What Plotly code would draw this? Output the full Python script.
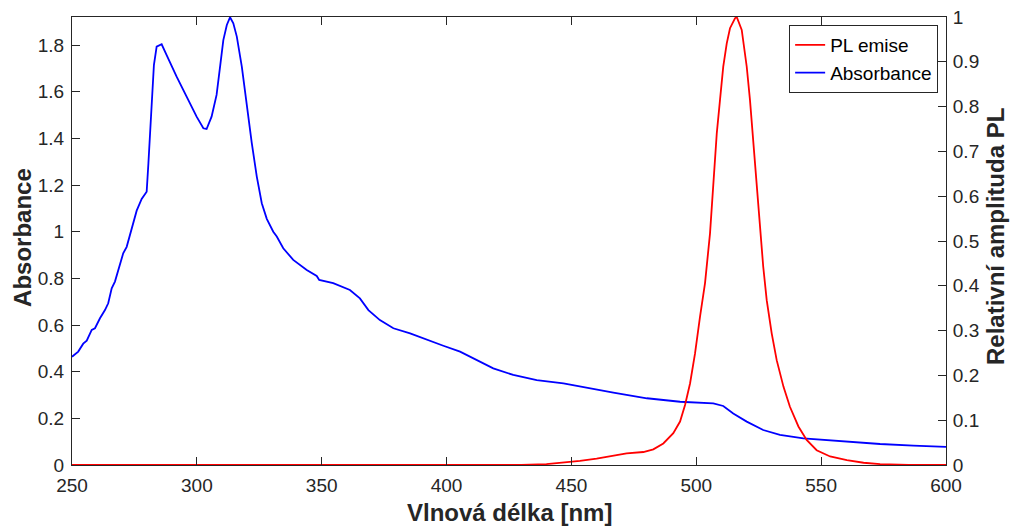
import plotly.graph_objects as go

# Absorbance spectrum (left axis)
abs_wavelength = [250, 252.5, 254.5, 255.9, 257.9, 259.2, 261.2, 263.2, 264.5, 265.9, 267.2,
                  269.2, 270.5, 271.9, 273.9, 275.9, 277.9, 279.2, 279.9, 280.6, 281.2, 281.9,
                  282.8, 283.9, 285.9, 287.9, 291.9, 295.9, 299.9, 302.6, 303.9, 305.9, 307.9,
                  309.3, 310.6, 312.0, 313.3, 314.6, 316.0, 318.0, 320.0, 322.0, 324.0, 326.0,
                  328.0, 330.6, 332.0, 334.6, 338.6, 344.0, 348.0, 349.0, 354.6, 361.3, 365.3,
                  368.7, 373.3, 378.7, 385.4, 392.0, 398.7, 405.4, 412.1, 418.7, 426.7, 436.1,
                  446.8, 453.4, 466.8, 480.2, 493.5, 506.8, 510.8, 514.8, 520.2, 526.8, 533.5,
                  542.9, 560.3, 573.6, 586.9, 600]
absorbance = [0.464, 0.486, 0.520, 0.533, 0.579, 0.586, 0.629, 0.664, 0.693, 0.757, 0.786,
              0.857, 0.907, 0.935, 1.010, 1.090, 1.140, 1.157, 1.171, 1.293, 1.421, 1.564,
              1.714, 1.793, 1.803, 1.757, 1.664, 1.579, 1.493, 1.443, 1.440, 1.493, 1.586,
              1.707, 1.821, 1.886, 1.919, 1.893, 1.836, 1.707, 1.536, 1.379, 1.236, 1.122,
              1.055, 1.000, 0.979, 0.929, 0.879, 0.836, 0.810, 0.793, 0.779, 0.750, 0.714,
              0.664, 0.621, 0.586, 0.564, 0.536, 0.511, 0.486, 0.450, 0.414, 0.386, 0.364,
              0.350, 0.336, 0.310, 0.286, 0.271, 0.264, 0.253, 0.221, 0.186, 0.150, 0.129,
              0.114, 0.100, 0.090, 0.083, 0.078]

# PL emission (right axis, relative)
pl_wavelength = [250, 430, 440, 444.1, 453.4, 460.1, 466.8, 472.1, 478.8, 482.8, 486.8, 490.8,
                 493.5, 495.5, 497.5, 499.5, 501.5, 503.5, 505.5, 506.8, 508.2, 509.5, 510.8,
                 512.2, 513.5, 515.5, 516.2, 518.2, 520.2, 521.5, 522.8, 524.2, 525.5, 526.8,
                 528.2, 530.2, 532.2, 534.9, 537.5, 540.9, 544.2, 548.2, 553.6, 560.3, 567.0,
                 573.6, 585, 600]
pl_emission = [0, 0, 0.002, 0.004, 0.009, 0.014, 0.020, 0.026, 0.029, 0.035, 0.048, 0.071,
               0.097, 0.134, 0.182, 0.249, 0.331, 0.406, 0.517, 0.629, 0.740, 0.815, 0.889,
               0.941, 0.975, 0.997, 1.000, 0.971, 0.889, 0.815, 0.725, 0.629, 0.532, 0.443,
               0.368, 0.294, 0.234, 0.175, 0.130, 0.086, 0.056, 0.033, 0.019, 0.011, 0.005,
               0.002, 0, 0]

x_ticks = [250, 300, 350, 400, 450, 500, 550, 600]
y_left_ticks = [0, 0.2, 0.4, 0.6, 0.8, 1, 1.2, 1.4, 1.6, 1.8]
y_left_labels = ["0", "0.2", "0.4", "0.6", "0.8", "1", "1.2", "1.4", "1.6", "1.8"]
y_right_ticks = [0, 0.1, 0.2, 0.3, 0.4, 0.5, 0.6, 0.7, 0.8, 0.9, 1]
y_right_labels = ["0", "0.1", "0.2", "0.3", "0.4", "0.5", "0.6", "0.7", "0.8", "0.9", "1"]

FONT = "Liberation Sans, Arial, Helvetica, sans-serif"
AX = "#262626"

fig = go.Figure()
fig.add_trace(go.Scatter(x=pl_wavelength, y=pl_emission, name="PL emise", yaxis="y2",
                         mode="lines", line=dict(color="#ff0000", width=1.8)))
fig.add_trace(go.Scatter(x=abs_wavelength, y=absorbance, name="Absorbance", yaxis="y",
                         mode="lines", line=dict(color="#0000ff", width=1.8)))

axis_common = dict(showgrid=False, zeroline=False, showline=True, linecolor=AX, linewidth=1,
                   ticks="inside", ticklen=8, tickcolor=AX, tickwidth=1,
                   tickfont=dict(family=FONT, size=19, color=AX))

fig.update_layout(
    width=1011, height=527,
    margin=dict(l=72, r=65, t=17, b=62, autoexpand=False),
    paper_bgcolor="white", plot_bgcolor="white",
    font=dict(family=FONT, color=AX),
    xaxis=dict(range=[250, 600], tickmode="array", tickvals=x_ticks,
               mirror="ticks", ticklabelstandoff=3, **axis_common),
    yaxis=dict(range=[0, 1.92], tickmode="array", tickvals=y_left_ticks,
               ticktext=y_left_labels, side="left", ticklabelstandoff=3, **axis_common),
    yaxis2=dict(range=[0, 1], tickmode="array", tickvals=y_right_ticks,
                ticktext=y_right_labels, overlaying="y", side="right",
                ticklabelstandoff=2, **axis_common),
    legend=dict(x=0.991, y=0.982, xanchor="right", yanchor="top",
                bgcolor="white", bordercolor=AX, borderwidth=1,
                font=dict(family=FONT, size=19, color="#000000"),
                itemwidth=30, traceorder="normal", tracegroupgap=0),
    showlegend=True,
    annotations=[
        dict(text="<b>Absorbance</b>", xref="paper", yref="paper", x=-0.056, y=0.507,
             xanchor="center", yanchor="middle", textangle=-90, showarrow=False,
             font=dict(family=FONT, size=24, color=AX)),
        dict(text="<b>Relativní amplituda PL</b>", xref="paper", yref="paper", x=1.056, y=0.511,
             xanchor="center", yanchor="middle", textangle=-90, showarrow=False,
             font=dict(family=FONT, size=24, color=AX)),
        dict(text="<b>Vlnová délka [nm]</b>", xref="paper", yref="paper", x=0.5, y=-0.107,
             xanchor="center", yanchor="middle", showarrow=False,
             font=dict(family=FONT, size=24, color=AX)),
    ],
)

fig.write_html("out.html")
